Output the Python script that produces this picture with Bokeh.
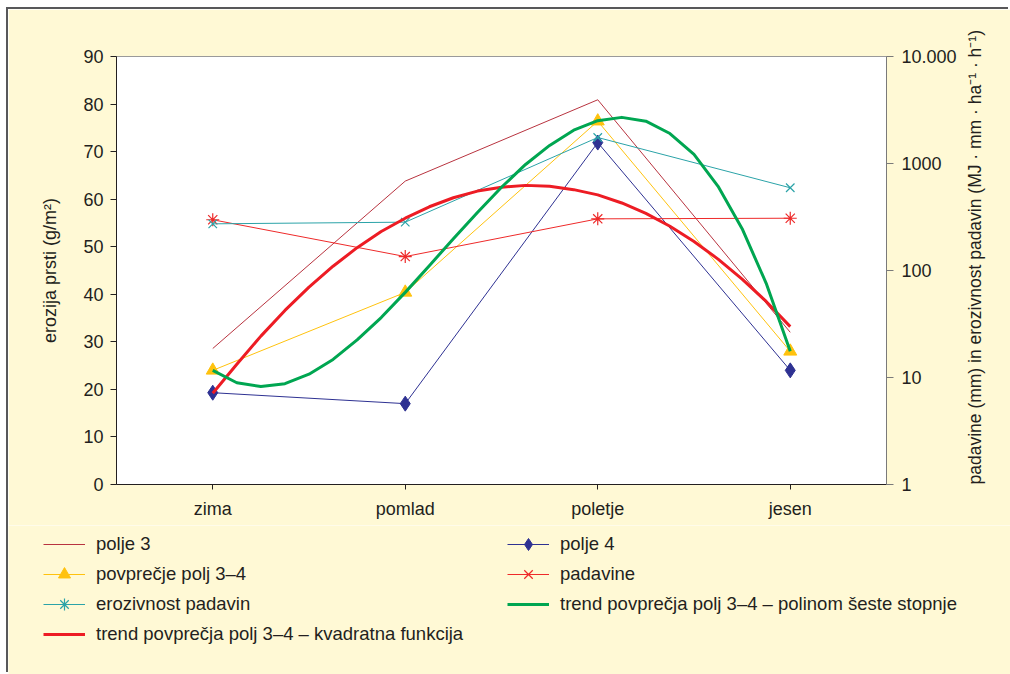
import math
from bokeh.plotting import figure
from bokeh.layouts import column
from bokeh.models import Range1d, LogScale, LogAxis, FixedTicker, Legend, LegendItem
from bokeh.embed import file_html
from bokeh.resources import INLINE

# ---------------- data ----------------
categories = ["zima", "pomlad", "poletje", "jesen"]
cat_pos = [1, 2, 3, 4]
polje3 = [28.6, 63.8, 80.9, 32.0]
polje4 = [19.3, 17.0, 71.9, 24.0]
povprecje = [24.0, 40.4, 76.4, 28.0]
padavine = [298, 135, 304, 308]            # right (log) axis
erozivnost = [273, 283, 1750, 593]         # right (log) axis

trend_pos = [1.0, 1.125, 1.25, 1.375, 1.5, 1.625, 1.75, 1.875, 2.0,
             2.125, 2.25, 2.375, 2.5, 2.625, 2.75, 2.875, 3.0,
             3.125, 3.25, 3.375, 3.5, 3.625, 3.75, 3.875, 4.0]
trend_kvad = [19.2, 25.3, 31.2, 36.6, 41.5, 45.9, 49.8, 53.2, 56.0,
              58.4, 60.3, 61.7, 62.5, 62.9, 62.7, 62.0, 60.9,
              59.2, 57.0, 54.3, 51.1, 47.4, 43.2, 38.5, 33.2]
trend_pol6 = [24.0, 21.4, 20.6, 21.2, 23.2, 26.3, 30.4, 35.1, 40.4,
              46.0, 51.7, 57.2, 62.5, 67.3, 71.3, 74.5, 76.5,
              77.2, 76.4, 73.8, 69.4, 62.7, 53.8, 42.3, 28.0]

left_ticks = [0, 10, 20, 30, 40, 50, 60, 70, 80, 90]
right_ticks = [1, 10, 100, 1000, 10000]
right_labels = ["1", "10", "100", "1000", "10.000"]

# ---------------- styles ----------------
FONT = "Liberation Sans"
TXT = "#231f20"
CREAM = "#fff9d5"

C_P3 = "#b8333f"
C_P4 = "#2e3192"
C_AVG = "#ffc20e"
C_PAD = "#ee2a2a"
C_ERO = "#2ba3a8"
C_KV = "#ed1c24"
C_P6 = "#00a651"

p = figure(frame_width=770, frame_height=428,
           x_range=Range1d(0.5, 4.5), y_range=Range1d(0, 90),
           output_backend="svg", toolbar_location=None,
           min_border_left=108, min_border_right=124,
           min_border_top=47, min_border_bottom=41,
           background_fill_color="white", border_fill_color=CREAM)
p.xgrid.visible = False
p.ygrid.visible = False
p.outline_line_color = "#9a9a9a"
p.outline_line_width = 1

p.extra_y_ranges = {"right": Range1d(1, 10000)}
p.extra_y_scales = {"right": LogScale()}

ya = p.yaxis[0]
ya.ticker = FixedTicker(ticks=left_ticks)
ya.axis_label = "erozija prsti (g/m²)"
xa = p.xaxis[0]
xa.ticker = FixedTicker(ticks=cat_pos)
xa.major_label_overrides = {pos: lab for pos, lab in zip(cat_pos, categories)}

ra = LogAxis(y_range_name="right",
             ticker=FixedTicker(ticks=right_ticks),
             major_label_overrides={t: l for t, l in zip(right_ticks, right_labels)},
             axis_label="padavine (mm) in erozivnost padavin (MJ · mm · ha⁻¹ · h⁻¹)")
for attr, val in (("axis_label_orientation", math.pi / 2),
                  ("axis_label_align", "start")):
    try:
        setattr(ra, attr, val)
    except Exception:
        pass
p.add_layout(ra, "right")

for ax in (ya, xa, ra):
    ax.major_label_text_font = FONT
    ax.major_label_text_font_size = "18px"
    ax.major_label_text_color = TXT
    ax.axis_label_text_font = FONT
    ax.axis_label_text_font_size = "18px"
    ax.axis_label_text_font_style = "normal"
    ax.axis_label_text_color = TXT
    ax.minor_tick_line_color = None
    ax.major_tick_in = 0
ra.axis_label_text_font_size = "17.5px"

ya.axis_line_color = TXT
ya.major_tick_line_color = TXT
ya.major_tick_out = 6
ya.major_label_standoff = 7
ya.axis_label_standoff = 20

xa.axis_line_color = TXT
xa.major_tick_line_color = TXT
xa.major_tick_out = 5
xa.major_label_standoff = 9

ra.axis_line_color = "#7a7a7a"
ra.major_tick_line_color = "#7a7a7a"
ra.major_tick_out = 7
ra.major_label_standoff = 8
ra.axis_label_standoff = 15

# ---------------- series ----------------
p.line(cat_pos, polje3, line_color=C_P3, line_width=1)
p.line(cat_pos, polje4, line_color=C_P4, line_width=1)
p.scatter(cat_pos, polje4, marker="diamond", size=15, fill_color=C_P4, line_color=C_P4)
p.line(cat_pos, povprecje, line_color=C_AVG, line_width=1)
p.scatter(cat_pos, povprecje, marker="triangle", size=13, fill_color=C_AVG, line_color=C_AVG)
p.line(cat_pos, padavine, line_color=C_PAD, line_width=1, y_range_name="right")
p.scatter(cat_pos, padavine, marker="asterisk", size=13, line_color=C_PAD,
          line_width=1.2, y_range_name="right")
p.line(cat_pos, erozivnost, line_color=C_ERO, line_width=1, y_range_name="right")
p.scatter(cat_pos, erozivnost, marker="x", size=12, line_color=C_ERO,
          line_width=1.2, y_range_name="right")
p.line(trend_pos, trend_kvad, line_color=C_KV, line_width=3, line_join="round")
p.line(trend_pos, trend_pol6, line_color=C_P6, line_width=3, line_join="round")

# ---------------- legend panel ----------------
lp = figure(width=1002, height=149, x_range=Range1d(0, 1), y_range=Range1d(0, 1),
            x_axis_type=None, y_axis_type=None, min_border=0,
            output_backend="svg", toolbar_location=None,
            background_fill_color=CREAM, border_fill_color=CREAM)
lp.outline_line_color = None
lp.grid.visible = False
for fig in (p, lp):
    try:
        fig.frame_align = False
    except Exception:
        pass

# legend-key renderers: kept outside the visible range of the legend panel
kx = [-5, -4]
ky = [-5, -4]
k_p3 = lp.line(kx, ky, line_color=C_P3, line_width=1)
k_p4l = lp.line(kx, ky, line_color=C_P4, line_width=1)
k_p4m = lp.scatter(kx, ky, marker="diamond", size=15, fill_color=C_P4, line_color=C_P4)
k_avl = lp.line(kx, ky, line_color=C_AVG, line_width=1)
k_avm = lp.scatter(kx, ky, marker="triangle", size=13, fill_color=C_AVG, line_color=C_AVG)
k_padl = lp.line(kx, ky, line_color=C_PAD, line_width=1)
k_padm = lp.scatter(kx, ky, marker="x", size=13, line_color=C_PAD, line_width=1.2)
k_erol = lp.line(kx, ky, line_color=C_ERO, line_width=1)
k_erom = lp.scatter(kx, ky, marker="asterisk", size=12, line_color=C_ERO, line_width=1.2)
k_kv = lp.line(kx, ky, line_color=C_KV, line_width=3)
k_p6 = lp.line(kx, ky, line_color=C_P6, line_width=3)


def make_legend(items, loc):
    return Legend(items=items, location=loc, orientation="vertical",
                  padding=0, margin=0, spacing=0,
                  glyph_width=42, glyph_height=30, label_height=30,
                  label_standoff=11,
                  label_text_font=FONT, label_text_font_size="18.5px",
                  label_text_color=TXT,
                  border_line_alpha=0, background_fill_alpha=0)


leg1 = make_legend([
    LegendItem(label="polje 3", renderers=[k_p3]),
    LegendItem(label="povprečje polj 3–4", renderers=[k_avl, k_avm]),
    LegendItem(label="erozivnost padavin", renderers=[k_erol, k_erom]),
    LegendItem(label="trend povprečja polj 3–4 – kvadratna funkcija", renderers=[k_kv]),
], (35, 25))
leg2 = make_legend([
    LegendItem(label="polje 4", renderers=[k_p4l, k_p4m]),
    LegendItem(label="padavine", renderers=[k_padl, k_padm]),
    LegendItem(label="trend povprečja polj 3–4 – polinom šeste stopnje", renderers=[k_p6]),
], (499, 55))
lp.add_layout(leg1, "center")
lp.add_layout(leg2, "center")

layout = column(p, lp, spacing=0,
                styles={"margin-left": "8px", "margin-top": "9px",
                        "box-shadow": "-2px -2px 0 0 #58585a"})

open("out.html", "w").write(file_html(layout, INLINE))
